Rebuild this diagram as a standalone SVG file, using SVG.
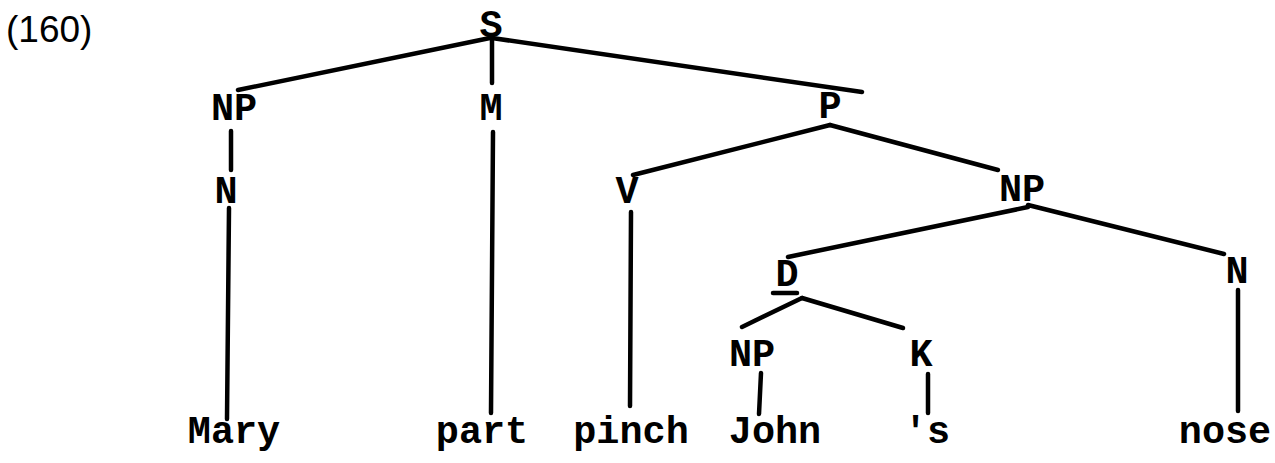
<svg xmlns="http://www.w3.org/2000/svg" width="1275" height="463" viewBox="0 0 1275 463">
<style>
.lbl{font-family:"Liberation Mono","DejaVu Sans Mono",monospace;font-weight:bold;font-size:38.5px;fill:#000;text-anchor:middle}
.num{font-family:"Liberation Sans","DejaVu Sans",sans-serif;font-size:37px;fill:#000}
.edge{stroke:#000;stroke-width:4.5;stroke-linecap:round;fill:none}
</style>
<rect width="1275" height="463" fill="#fff"/>
<text class="num" x="6" y="42">(160)</text>
<g id="connectors">
<line class="edge" x1="490" y1="38" x2="238" y2="90"/>
<line class="edge" x1="492" y1="40" x2="492" y2="83"/>
<line class="edge" x1="492" y1="38" x2="862" y2="92"/>
<line class="edge" x1="231" y1="131" x2="231" y2="170"/>
<line class="edge" x1="229" y1="208" x2="227" y2="419"/>
<line class="edge" x1="493" y1="132" x2="491" y2="413"/>
<line class="edge" x1="830" y1="125" x2="633" y2="175"/>
<line class="edge" x1="830" y1="125" x2="998" y2="170"/>
<line class="edge" x1="631" y1="212" x2="630" y2="406"/>
<line class="edge" x1="1028" y1="207" x2="788" y2="257"/>
<line class="edge" x1="1028" y1="205" x2="1224" y2="254"/>
<line class="edge" x1="1238" y1="290" x2="1238" y2="411"/>
<line class="edge" x1="773" y1="293" x2="797" y2="293"/>
<line class="edge" x1="802" y1="298" x2="742" y2="327"/>
<line class="edge" x1="802" y1="298" x2="903" y2="328"/>
<line class="edge" x1="761" y1="373" x2="759" y2="414"/>
<line class="edge" x1="928" y1="374" x2="928" y2="413"/>
</g>
<g id="n-S"><text class="lbl" x="491" y="37">S</text></g>
<g id="n-NP1"><text class="lbl" x="234" y="120">NP</text></g>
<g id="n-M"><text class="lbl" x="491" y="120">M</text></g>
<g id="n-P"><text class="lbl" x="830" y="118">P</text></g>
<g id="n-N1"><text class="lbl" x="226" y="203">N</text></g>
<g id="n-V"><text class="lbl" x="627" y="203">V</text></g>
<g id="n-NP2"><text class="lbl" x="1022" y="201">NP</text></g>
<g id="n-D"><text class="lbl" x="787" y="286">D</text></g>
<g id="n-N2"><text class="lbl" x="1237" y="283">N</text></g>
<g id="n-NP3"><text class="lbl" x="752" y="366">NP</text></g>
<g id="n-K"><text class="lbl" x="921" y="366">K</text></g>
<g id="w-Mary"><text class="lbl" x="234" y="443">Mary</text></g>
<g id="w-part"><text class="lbl" x="482" y="443">part</text></g>
<g id="w-pinch"><text class="lbl" x="631" y="443">pinch</text></g>
<g id="w-John"><text class="lbl" x="775" y="443">John</text></g>
<g id="w-s"><text class="lbl" x="927" y="443">'s</text></g>
<g id="w-nose"><text class="lbl" x="1225" y="443">nose</text></g>
</svg>
